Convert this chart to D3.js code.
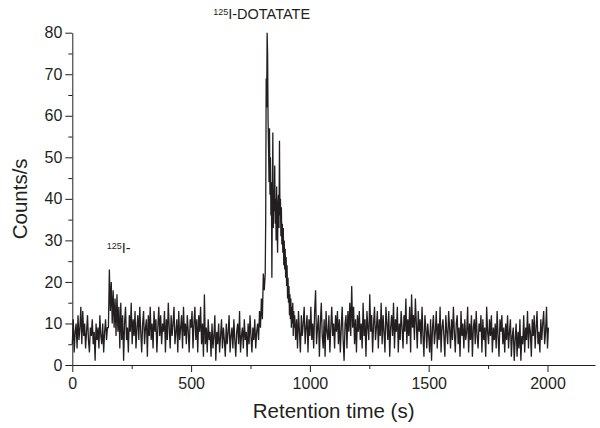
<!DOCTYPE html>
<html>
<head>
<meta charset="utf-8">
<script src="https://cdn.jsdelivr.net/npm/d3@7/dist/d3.min.js"></script>
<style>
  html, body { margin: 0; padding: 0; background: #fff; }
  svg { display: block; font-family: "Liberation Sans", Arial, Helvetica, sans-serif; }
</style>
</head>
<body>
<svg id="chart" width="600" height="428"></svg>
<script>
// Radio-HPLC trace, counts per second. Baseline sampled every 4 s,
// the labelled peptide peak every 2 s.

// 0–148 s: baseline before the free iodide
const countsBaseline1 = [5,11,3,8,10,4,12,6,9,14,5,13,7,10,4,8,12,6,3,9,7,11,5,8,1,10,6,9,4,12,7,5,10,3,8,11,6,9];
// 152–212 s: free iodide peak
const countsIodide = [9,23,13,20,10,18,9,16,7,17,8,14,4,15,6,12];
// 216–496 s
const countsBaseline2 = [1,10,14,6,9,3,12,8,15,5,11,7,13,4,9,12,6,14,8,3,10,13,5,9,11,2,12,7,14,6,10,4,13,8,11,3,9,14,7,12,5,10,8,13,3,11,6,15,9,4,12,7,10,14,5,8,11,3,13,6,9,12,4,14,7,10,5,12,8,3,11];
// 500–556 s
const countsBaseline3 = [9,13,4,10,14,6,11,3,12,8,14,5,10,2,17];
// 560–780 s
const countsBaseline4 = [5,9,3,11,6,8,2,10,4,7,12,1,8,5,10,3,7,11,4,9,6,2,10,5,8,12,3,7,9,4,11,6,2,8,10,5,13,3,7,9,4,11,6,8,2,10,5,12,7,3,9,6,11,4,8,10];
// 784–808 s: leading edge
const countsRise = [6,13,9,16,11,22,18];
// 812–936 s (2 s steps): labelled peptide peak
const countsPeptide = [
  22,35,69,62,80,75,59,52,44,57,
  41,50,36,44,21,39,56,33,42,37,
  48,34,40,30,43,35,27,39,41,33,
  54,36,40,31,38,29,34,27,33,24,
  30,23,28,21,26,19,24,16,21,15,
  19,12,17,11,16,9,14,10,15,7,
  13,9,12];
// 940–1496 s
const countsBaseline5 = [
  6,11,4,13,8,3,12,7,10,14,
  5,9,12,3,11,7,14,6,10,4,
  13,18,5,9,12,2,10,15,7,4,
  11,2,13,8,6,12,3,9,14,7,
  10,4,12,8,13,5,11,3,9,14,
  6,1,10,12,4,13,8,15,7,19,
  9,14,5,11,3,12,8,13,6,10,
  4,15,7,11,2,13,9,6,17,8,
  12,3,10,14,6,9,13,4,11,7,
  15,5,12,8,3,14,10,6,13,2,
  9,12,7,15,4,11,8,14,3,10,
  6,13,9,4,12,8,16,5,11,7,
  14,3,17,9,12,6,16,10,4,13,
  8,11,5,14,7,2,12,9,4,10];
// 1500–2004 s
const countsBaseline6 = [
  7,3,11,1,9,12,5,8,13,4,
  10,6,14,3,9,11,7,2,12,8,
  5,13,9,4,11,6,14,8,3,10,
  12,5,9,2,13,7,10,4,11,6,
  8,14,3,10,6,12,2,9,11,5,
  13,7,4,10,8,12,3,11,6,9,
  2,14,8,5,11,7,12,3,9,6,
  10,4,13,7,2,11,8,12,5,9,
  3,10,6,12,4,8,11,2,7,9,
  1,6,10,2,8,4,11,1,7,5,
  12,3,9,6,13,4,10,8,2,11,
  7,12,4,9,13,5,8,3,11,6,
  10,13,5,8,14,4,9];

const xMajorTicks = [0, 500, 1000, 1500, 2000];
const xMinorTicks = [250, 750, 1250, 1750];
const yMajorTicks = [0, 10, 20, 30, 40, 50, 60, 70, 80];
const yMinorTicks = [5, 15, 25, 35, 45, 55, 65, 75];

// stitch the segments into one time series: [start time, step, counts]
const trace = [];
function addSegment(start, step, values) {
  values.forEach((v, i) => trace.push({ t: start + i * step, v }));
}
addSegment(0, 4, countsBaseline1);
addSegment(152, 4, countsIodide);
addSegment(216, 4, countsBaseline2);
addSegment(500, 4, countsBaseline3);
addSegment(560, 4, countsBaseline4);
addSegment(784, 4, countsRise);
addSegment(812, 2, countsPeptide);
addSegment(940, 4, countsBaseline5);
addSegment(1500, 4, countsBaseline6);

const ink = "#231f20";
const svg = d3.select("#chart");

const x = d3.scaleLinear().domain([0, 2200]).range([72.3, 595]);
const y = d3.scaleLinear().domain([0, 80]).range([365, 32.7]);

// trace
svg.append("path")
  .datum(trace)
  .attr("fill", "none")
  .attr("stroke", ink)
  .attr("stroke-width", 1.3)
  .attr("stroke-linejoin", "miter")
  .attr("d", d3.line().x(d => x(d.t)).y(d => y(d.v)));

// x axis
const gx = svg.append("g").attr("transform", `translate(0,${y(0)})`);
gx.call(d3.axisBottom(x).tickValues(xMajorTicks).tickSize(7).tickSizeOuter(0).tickPadding(6).tickFormat(d3.format("d")));
gx.append("g").call(d3.axisBottom(x).tickValues(xMinorTicks).tickSize(4).tickFormat(""))
  .select(".domain").remove();

// y axis
const gy = svg.append("g").attr("transform", `translate(${x(0)},0)`);
gy.call(d3.axisLeft(y).tickValues(yMajorTicks).tickSize(7).tickSizeOuter(0).tickPadding(3).tickFormat(d3.format("d")));
gy.append("g").call(d3.axisLeft(y).tickValues(yMinorTicks).tickSize(4).tickFormat(""))
  .select(".domain").remove();

svg.selectAll(".domain, .tick line").attr("stroke", ink).attr("stroke-width", 1);
svg.selectAll(".tick text").attr("fill", ink).attr("font-size", 16)
  .attr("font-family", "'Liberation Sans', Arial, Helvetica, sans-serif");

// axis titles
svg.append("text")
  .attr("x", (x(0) + x(2200)) / 2)
  .attr("y", 418)
  .attr("text-anchor", "middle")
  .attr("font-size", 20.5)
  .attr("fill", ink)
  .text("Retention time (s)");

svg.append("text")
  .attr("transform", `translate(26.5,${(y(0) + y(80)) / 2}) rotate(-90)`)
  .attr("text-anchor", "middle")
  .attr("font-size", 20.5)
  .attr("fill", ink)
  .text("Counts/s");

// peak annotations
function isotopeLabel(tx, vy, name) {
  const t = svg.append("text")
    .attr("x", x(tx))
    .attr("y", y(vy))
    .attr("fill", ink);
  t.append("tspan").attr("font-size", 9).attr("dy", -4.5).text("125");
  t.append("tspan").attr("font-size", 14.5).attr("dy", 4.5).text(name);
}
isotopeLabel(593, 83.2, "I-DOTATATE");
isotopeLabel(145, 26.9, "I-");
</script>
</body>
</html>
